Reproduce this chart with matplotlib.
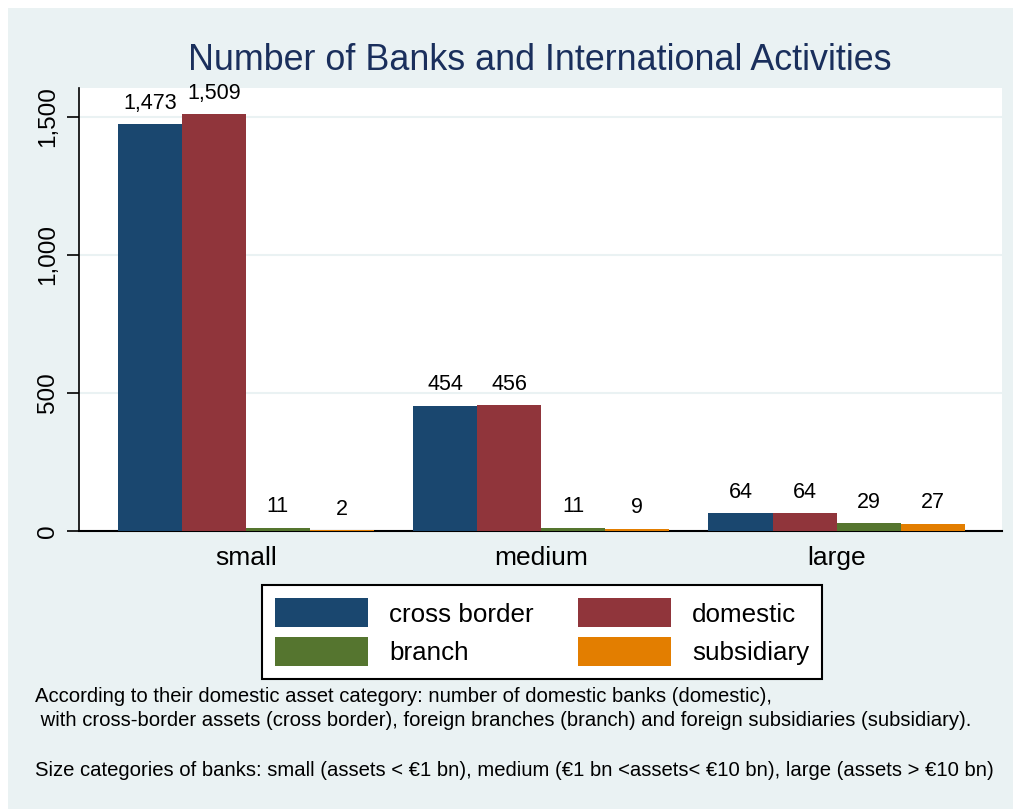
import numpy as np
import matplotlib as mpl

mpl.use('Agg')
import matplotlib.pyplot as plt
from matplotlib.patches import Rectangle, Patch

plt.rcParams['font.family'] = ['Liberation Sans', 'DejaVu Sans']

# Data
categories = ['small', 'medium', 'large']
series = ['cross border', 'domestic', 'branch', 'subsidiary']
cross_border = [1473, 454, 64]
domestic = [1509, 456, 64]
branch = [11, 11, 29]
subsidiary = [2, 9, 27]
colors = ['#1a476f', '#90353b', '#55752f', '#e37e00']

bg = '#eaf2f3'
W, H = 1013, 809
fig = plt.figure(figsize=(W / 100, H / 100), dpi=100, facecolor='white')
fig.patches.append(Rectangle((8 / W, 0), 1, 1 - 8 / H, transform=fig.transFigure,
                             facecolor=bg, edgecolor='none', zorder=-10))

ax = fig.add_axes([78.7 / W, 1 - 531 / H, (1002 - 78.7) / W, (531 - 88) / H])
ax.set_facecolor('white')

x = np.arange(len(categories))
width = 0.217
values = [cross_border, domestic, branch, subsidiary]
for i, (vals, col, name) in enumerate(zip(values, colors, series)):
    pos = x + (i - 1.5) * width
    ax.bar(pos, vals, width=width, color=col, label=name, zorder=3)
    for p, v in zip(pos, vals):
        ax.text(p, v + 38, f'{v:,}', ha='center', va='bottom', fontsize=15.5, zorder=4)

ax.set_xlim(-0.566, 2.56)
ax.set_ylim(0, 1605)
ax.set_yticks([0, 500, 1000, 1500])
ax.set_yticklabels(['0', '500', '1,000', '1,500'], rotation=90, va='center', fontsize=17.5)
ax.yaxis.grid(True, color=bg, linewidth=1.5, zorder=0)
ax.set_xticks(x)
ax.set_xticklabels(categories, fontsize=19)
ax.tick_params(axis='x', length=0, pad=11)
ax.tick_params(axis='y', length=9, width=1.2, pad=5)
for s in ['top', 'right']:
    ax.spines[s].set_visible(False)
ax.spines['left'].set_linewidth(1.2)
ax.spines['bottom'].set_linewidth(1.5)

fig.text(540 / W, 1 - 61 / H, 'Number of Banks and International Activities',
         ha='center', va='center', fontsize=25.8, color='#1a2f5c')

# legend filled row by row like the original
order = [0, 2, 1, 3]
handles = [Patch(facecolor=colors[k], edgecolor='none') for k in order]
labels = [series[k] for k in order]
leg = fig.legend(handles, labels, loc='center', bbox_to_anchor=(542 / W, 1 - 632 / H),
                 ncol=2, fontsize=18.7, frameon=True, fancybox=False, edgecolor='black',
                 facecolor='white', framealpha=1,
                 handlelength=3.6, handleheight=1.35, columnspacing=1.7, handletextpad=0.8,
                 labelspacing=0.35, borderpad=0.5)
leg.get_frame().set_linewidth(1.5)

cap_size = 14.6
fig.text(35 / W, 1 - 697 / H,
         'According to their domestic asset category: number of domestic banks (domestic),',
         ha='left', va='center', fontsize=cap_size)
fig.text(35 / W, 1 - 721 / H,
         ' with cross-border assets (cross border), foreign branches (branch) and foreign subsidiaries (subsidiary).',
         ha='left', va='center', fontsize=cap_size)
fig.text(35 / W, 1 - 771 / H,
         'Size categories of banks: small (assets < €1 bn), medium (€1 bn <assets< €10 bn), large (assets > €10 bn)',
         ha='left', va='center', fontsize=cap_size)

plt.savefig('out.png', dpi=100, facecolor=fig.get_facecolor())
